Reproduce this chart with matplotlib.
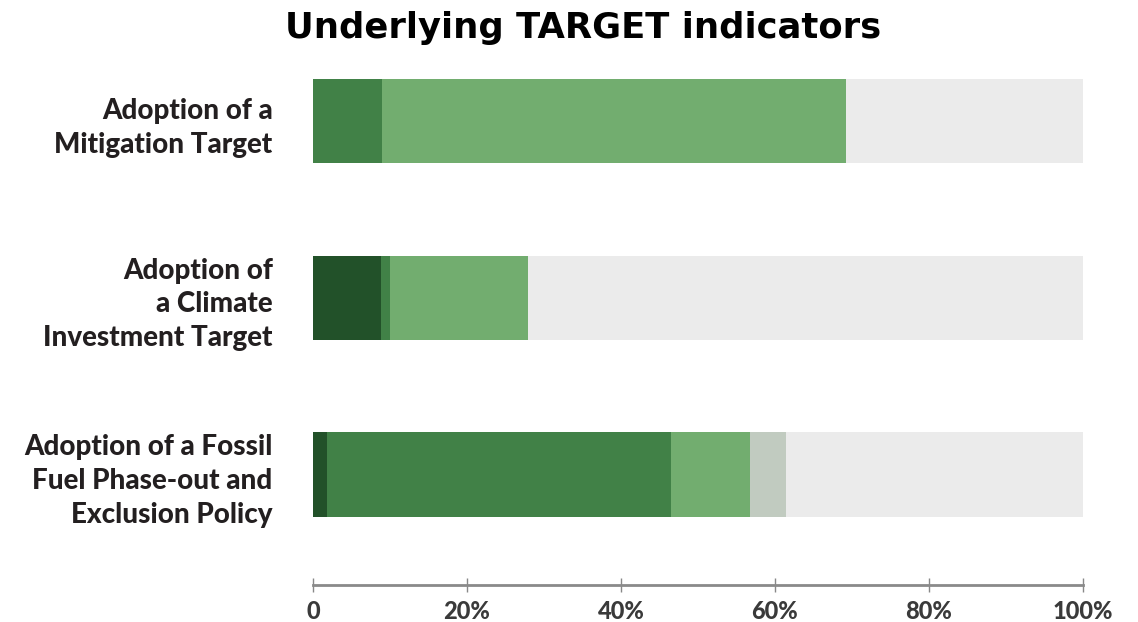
import numpy as np
import matplotlib.pyplot as plt

# share of entities (%) per rating level
indicators = ['Adoption of a\nMitigation Target',
              'Adoption of\na Climate\nInvestment Target',
              'Adoption of a Fossil\nFuel Phase-out and\nExclusion Policy']
darkest = [0.0, 8.8, 1.8]
medium = [9.0, 1.2, 44.7]
light = [60.2, 17.9, 10.2]
grayish = [0.0, 0.0, 4.7]
remaining = [30.8, 72.1, 38.6]
tick_values = [0, 20, 40, 60, 80, 100]
tick_labels = ['0', '20%', '40%', '60%', '80%', '100%']

series = [darkest, medium, light, grayish, remaining]
colors = ['#225129', '#418147', '#72ad6f', '#c1cbc0', '#ebebeb']

plt.rcParams['font.family'] = ['Lato', 'DejaVu Sans']

fig = plt.figure(figsize=(11.38, 6.22), dpi=100)
ax = fig.add_axes([313 / 1138, 37 / 622, 770 / 1138, 525 / 622])

y = np.arange(len(indicators))
left = np.zeros(len(indicators))
for vals, c in zip(series, colors):
    ax.barh(y, vals, left=left, height=0.476, color=c, edgecolor='none')
    left += np.array(vals)

ax.set_xlim(0, 100)
ax.set_ylim(2.626, -0.348)
ax.set_yticks(y)
ax.set_yticklabels(indicators, fontsize=20, fontweight='black', color='#231f20',
                   linespacing=1.37, ha='right')
ax.tick_params(axis='y', length=0, pad=29)

ax.set_xticks(tick_values)
ax.set_xticklabels(tick_labels, fontsize=17, fontweight='black', color='#3a3a3a')
ax.tick_params(axis='x', direction='inout', length=10, width=1, color='#888888', pad=6)

for s in ['top', 'right', 'left']:
    ax.spines[s].set_visible(False)
ax.spines['bottom'].set_color('#8a8a8a')
ax.spines['bottom'].set_linewidth(2)

fig.text(583 / 1138, 1 - 28 / 622, 'Underlying TARGET indicators', ha='center', va='center',
         fontsize=25.5, fontweight='bold', color='black', family='DejaVu Sans')

fig.savefig('out.png', dpi=100)
